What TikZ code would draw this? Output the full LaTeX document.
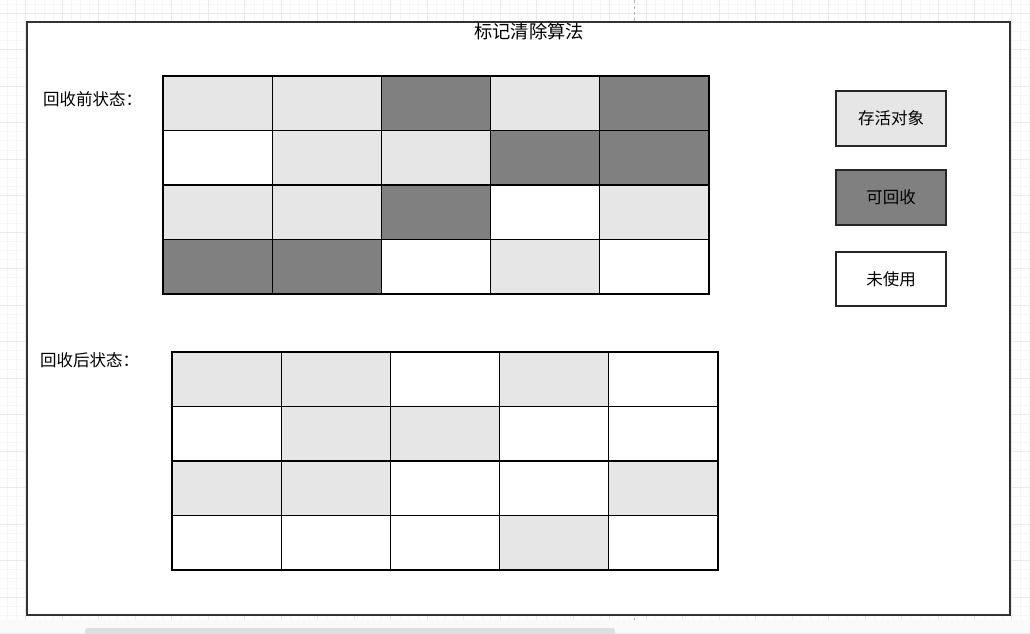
\documentclass[tikz,border=0pt]{standalone}
\usepackage{fontspec}
\newfontfamily\cjk{Noto Sans CJK SC}
\definecolor{cL}{HTML}{E6E6E6}
\definecolor{cD}{HTML}{808080}
\definecolor{cW}{HTML}{FFFFFF}
\definecolor{gridminor}{HTML}{F6F6F6}
\definecolor{gridmajor}{HTML}{EAEAEA}
\definecolor{frame}{HTML}{333333}
\begin{document}
\begin{tikzpicture}[x=1pt,y=-1pt,
  cell/.style={draw=black, line width=1.3pt, rectangle, inner sep=0pt, outer sep=0pt,
    minimum width=109.2pt, minimum height=54.5pt, anchor=north west},
  legendbox/.style={draw=black!85, line width=1.1pt, rectangle, inner sep=0pt,
    minimum width=110pt, minimum height=55pt, font=\cjk\fontsize{16.5}{19}\selectfont},
  lbl/.style={font=\cjk\fontsize{16.5}{19}\selectfont, anchor=west, inner sep=0pt},
  titletext/.style={font=\cjk\fontsize{18.3}{21}\selectfont, inner sep=0pt}]
\useasboundingbox (0,0) rectangle (1030,633);
% canvas background grid
\fill[white] (0,0) rectangle (1030,633);
\foreach \i in {0,...,114} {
  \draw[gridminor, line width=0.6pt] ({-10.8+\i*9.125},0) -- ({-10.8+\i*9.125},620);
}
\foreach \i in {0,...,68} {
  \draw[gridminor, line width=0.6pt] (0,{3.9+\i*9.125}) -- (1030,{3.9+\i*9.125});
}
\foreach \i in {0,...,29} {
  \draw[gridmajor, line width=0.7pt] ({-10.8+\i*36.5},0) -- ({-10.8+\i*36.5},620);
}
\foreach \i in {0,...,17} {
  \draw[gridmajor, line width=0.7pt] (0,{12.9+\i*36.5}) -- (1030,{12.9+\i*36.5});
}
% page break line
\draw[gray!60, dashed, line width=0.8pt] (634,0) -- (634,620);
% bottom strip and scrollbar
\fill[white!96!gray] (0,620) rectangle (1030,633);
\fill[gray!25, rounded corners=3pt] (85,628) rectangle (615,640);
% outer frame
\draw[frame, line width=1.3pt, fill=white] (27,22) rectangle (1010,615);
% title
\node[titletext] (title) at (529,31) {标记清除算法};
% labels
\node[lbl] (before) at (43,99) {回收前状态：};
\node[lbl] (after) at (40,360) {回收后状态：};
% grid before
\foreach \r/\row in {1/{cL,cL,cD,cL,cD},2/{cW,cL,cL,cD,cD},3/{cL,cL,cD,cW,cL},4/{cD,cD,cW,cL,cW}} {
  \foreach \k [count=\c] in \row {
    \node[cell, fill=\k] (a-\r-\c) at ({163+(\c-1)*109.2},{76+(\r-1)*54.5}) {};
  }
}
% grid after
\foreach \r/\row in {1/{cL,cL,cW,cL,cW},2/{cW,cL,cL,cW,cW},3/{cL,cL,cW,cW,cL},4/{cW,cW,cW,cL,cW}} {
  \foreach \k [count=\c] in \row {
    \node[cell, fill=\k] (b-\r-\c) at ({172+(\c-1)*109.2},{352+(\r-1)*54.5}) {};
  }
}
% legend
\node[legendbox, fill=cL] (live) at (891,118.5) {存活对象};
\node[legendbox, fill=cD] (dead) at (891,197.5) {可回收};
\node[legendbox, fill=cW, minimum height=54pt] (free) at (891,279) {未使用};
\end{tikzpicture}
\end{document}
